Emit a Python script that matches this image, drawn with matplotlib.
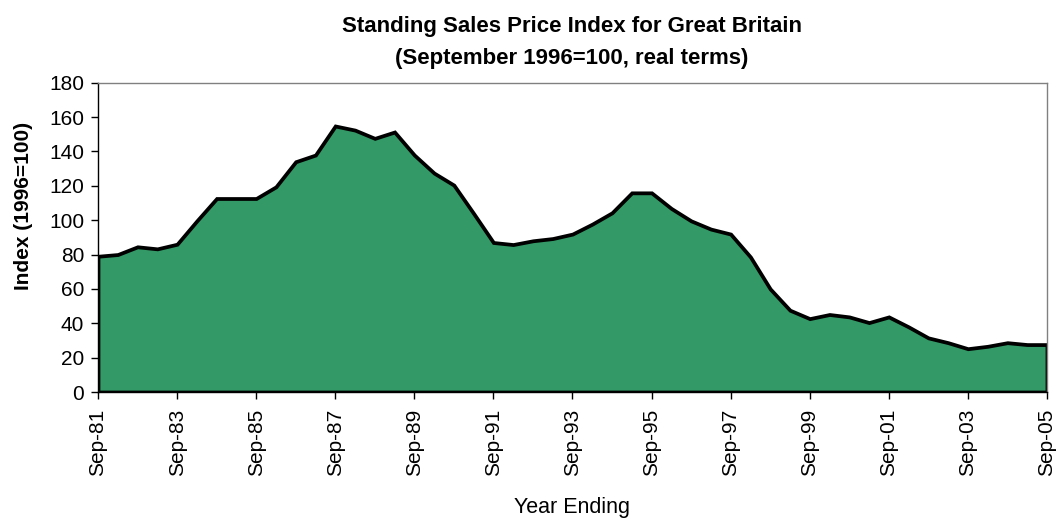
import matplotlib
matplotlib.use("Agg")
import matplotlib.pyplot as plt

plt.rcParams['font.family'] = ['Liberation Sans', 'DejaVu Sans']

# half-yearly observations, Sep-81 .. Sep-05
index_values = [79.0, 80.0, 84.5, 83.3, 86.0, 99.6, 112.6, 112.6, 112.6, 119.4,
                134.0, 137.9, 154.8, 152.4, 147.6, 151.3, 137.9, 127.4, 120.4, 103.9,
                87.0, 85.8, 88.0, 89.3, 91.9, 97.7, 104.3, 115.9, 115.9, 106.8,
                99.6, 94.8, 91.9, 78.6, 60.0, 47.6, 42.7, 45.1, 43.7, 40.4,
                43.7, 37.9, 31.5, 28.7, 25.2, 26.6, 28.7, 27.6, 27.6]
tick_labels = ['Sep-81', 'Sep-83', 'Sep-85', 'Sep-87', 'Sep-89', 'Sep-91', 'Sep-93',
               'Sep-95', 'Sep-97', 'Sep-99', 'Sep-01', 'Sep-03', 'Sep-05']
y_ticks = [0, 20, 40, 60, 80, 100, 120, 140, 160, 180]

x = list(range(len(index_values)))

fig = plt.figure(figsize=(10.57, 5.21), dpi=100)
ax = fig.add_axes([0.0927, 0.2476, 0.8978, 0.5937])

ax.fill_between(x, 0, index_values, facecolor='#339966', edgecolor='black',
                linewidth=2.7, joinstyle='miter')

ax.set_xlim(0, len(index_values) - 1)
ax.set_ylim(0, 180)
ax.set_yticks(y_ticks)
ax.set_xticks(list(range(0, len(index_values), 4)))
ax.set_xticklabels(tick_labels, rotation=90)
ax.tick_params(axis='both', direction='out', length=5, width=1, labelsize=15, colors='black')
ax.tick_params(axis='x', pad=7)
ax.tick_params(axis='y', pad=5)

for s in ['top', 'right']:
    ax.spines[s].set_color('#808080')
    ax.spines[s].set_linewidth(1.0)
for s in ['left', 'bottom']:
    ax.spines[s].set_color('black')
    ax.spines[s].set_linewidth(1.0)

ax.set_ylabel('Index (1996=100)', fontsize=15, fontweight='bold', va='center')
ax.yaxis.set_label_coords(-0.079, 0.60)
fig.text(0.541, 0.026, 'Year Ending', ha='center', va='center', fontsize=15.5)
fig.text(0.541, 0.950, 'Standing Sales Price Index for Great Britain', ha='center', va='center',
         fontsize=16, fontweight='bold')
fig.text(0.541, 0.888, '(September 1996=100, real terms)', ha='center', va='center',
         fontsize=16, fontweight='bold')

fig.savefig('out.png', dpi=100)
